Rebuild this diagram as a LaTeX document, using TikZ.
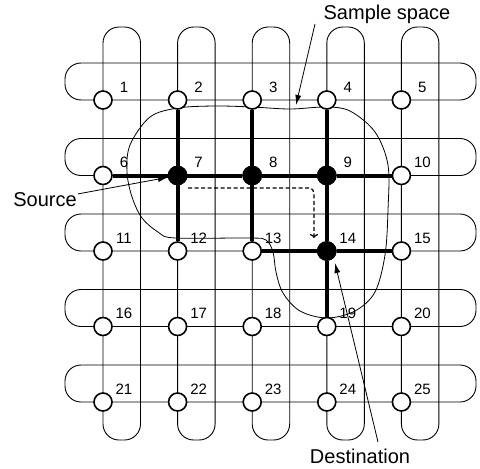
\documentclass[tikz,border=0pt]{standalone}
\usepackage{fontspec}
\setmainfont{Liberation Sans}
\usetikzlibrary{arrows.meta}

\begin{document}
\begin{tikzpicture}[x=1pt,y=-1pt,
    band/.style={draw,line width=0.9pt,rounded corners=16pt},
    vert/.style={draw,circle,minimum size=18pt,inner sep=0pt,line width=1.6pt,fill=white},
    busy/.style={vert,fill=black},
    route/.style={line width=4pt},
    num/.style={font=\fontsize{15}{15}\selectfont},
    tag/.style={font=\fontsize{20}{20}\selectfont,inner sep=1pt}]
  \useasboundingbox (0,0) rectangle (480,469);

  % row and column bands
  \foreach \i in {0,...,4} {
    \draw[band] ({103+74.6*\i},27) rectangle ({140.5+74.6*\i},440);
    \draw[band] (65,{63+75.5*\i}) rectangle (476,{100+75.5*\i});
  }

  % sample space
  \draw[line width=0.8pt] plot[smooth cycle,tension=0.55] coordinates {
    (150,117) (178,108) (215,106) (252,107) (290,109) (326,107) (350,111)
    (375,132) (388,165) (388,210) (385,255) (375,292) (355,311) (327,318)
    (300,311) (283,293) (276,272) (273,252) (266,240) (250,238) (175,238)
    (158,232) (142,218) (132,197) (127,172) (130,145)};

  % grid vertices
  \foreach \r in {0,...,4}
    \foreach \c in {1,...,5} {
      \pgfmathtruncatemacro{\n}{5*\r+\c}
      \node[vert] (\n) at ({103+74.6*(\c-1)},{100+75.5*\r}) {};
      \node[num] (l\n) at ([xshift=21pt,yshift=13pt]\n) {\n};
    }
  \foreach \n in {7,8,9,14}
    \node[busy] (b\n) at (\n) {};

  % route
  \foreach \a/\b in {2/7,7/12,3/8,8/13,4/9,9/14,14/19,6/7,7/8,8/9,9/10,13/14,14/15}
    \draw[route] (\a) -- (\b);

  \coordinate (dstart) at (188,188);
  \coordinate (dend) at (314,238);
  \draw[line width=1.2pt,dash pattern=on 4pt off 2.5pt,rounded corners=5pt,-{To[length=4pt]}] (dstart) -| (dend);

  % labels
  \node[tag] (source) at (45,200) {Source};
  \node[tag] (space) at (387,14) {Sample space};
  \node[tag] (dest) at (360,456) {Destination};
  \coordinate (spacefoot) at (315,24);
  \coordinate (spacetip) at (296,105);
  \coordinate (destfoot) at (378,442);
  \coordinate (desttip) at (335,263);

  \draw[line width=0.8pt,-{Latex[length=10pt,width=6pt]}] (source) -- (7);
  \draw[line width=0.8pt,-{Latex[length=10pt,width=6pt]}] (spacefoot) -- (spacetip);
  \draw[line width=0.8pt,-{Latex[length=10pt,width=6pt]}] (destfoot) -- (desttip);
\end{tikzpicture}
\end{document}
